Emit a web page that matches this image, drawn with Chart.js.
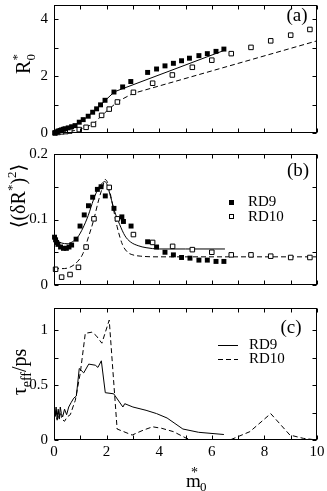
<!DOCTYPE html>
<html lang="en">
<head>
  <meta charset="UTF-8">
  <title>R0*, fluctuation and tau_eff vs m0*</title>
  <script src="https://cdn.jsdelivr.net/npm/chart.js"></script>
  <style>
    html, body { margin: 0; padding: 0; background: #fff; }
    .wrap { position: relative; width: 327px; height: 491px; }
    .wrap canvas { position: absolute; left: 0; top: 0; }
  </style>
</head>
<body>
  <div class="wrap">
    <canvas id="chartA" width="327" height="491"></canvas>
    <canvas id="chartB" width="327" height="491"></canvas>
    <canvas id="chartC" width="327" height="491"></canvas>
  </div>

  <script>
    // (a) R0* : RD9 filled squares, RD10 open squares, fit lines
    const a9x = [0.04, 0.1, 0.16, 0.23, 0.29, 0.36, 0.42, 0.54, 0.67, 0.8, 0.96, 1.11, 1.3, 1.47, 1.62, 1.77, 1.94, 2.28, 2.61, 2.92, 3.56, 3.9, 4.22, 4.54, 4.85, 5.15, 5.51, 5.83, 6.16, 6.46];
    const a9y = [0.01, 0.04, 0.07, 0.09, 0.11, 0.13, 0.15, 0.18, 0.22, 0.26, 0.38, 0.47, 0.59, 0.73, 0.85, 0.99, 1.15, 1.44, 1.62, 1.81, 2.13, 2.25, 2.36, 2.45, 2.54, 2.63, 2.72, 2.79, 2.87, 2.95];
    const a10x = [0.04, 0.15, 0.3, 0.45, 0.6, 0.96, 1.22, 1.5, 1.81, 2.1, 2.41, 3.02, 3.75, 4.5, 5.26, 6.0, 6.74, 7.49, 8.24, 9.0, 9.73];
    const a10y = [0.0, 0.02, 0.04, 0.05, 0.07, 0.12, 0.2, 0.3, 0.62, 0.84, 1.09, 1.43, 1.75, 2.04, 2.31, 2.56, 2.79, 3.01, 3.24, 3.44, 3.64];
    const a9fitX = [0, 0.4, 0.8, 1.2, 1.6, 2.0, 2.3, 6.46];
    const a9fitY = [0, 0.14, 0.28, 0.52, 0.84, 1.19, 1.45, 2.9];
    const a10fitX = [0, 0.5, 0.9, 1.2, 1.5, 1.8, 2.1, 2.45, 3.0, 10];
    const a10fitY = [0, 0.05, 0.1, 0.2, 0.32, 0.6, 0.85, 1.12, 1.39, 3.24];

    // (b) <(dR*)^2>
    const b9x = [0.02, 0.06, 0.1, 0.15, 0.25, 0.36, 0.47, 0.57, 0.67, 0.84, 0.99, 1.15, 1.31, 1.47, 1.65, 1.79, 1.95, 2.28, 2.58, 2.64, 2.93, 3.56, 3.9, 4.22, 4.54, 4.85, 5.17, 5.51, 5.83, 6.16, 6.46];
    const b9y = [0.073, 0.069, 0.065, 0.062, 0.058, 0.056, 0.056, 0.058, 0.061, 0.070, 0.090, 0.107, 0.121, 0.134, 0.146, 0.150, 0.136, 0.117, 0.104, 0.097, 0.090, 0.066, 0.058, 0.050, 0.046, 0.042, 0.041, 0.038, 0.038, 0.036, 0.036];
    const b10x = [0.06, 0.29, 0.61, 0.93, 1.22, 1.52, 2.1, 2.41, 3.02, 3.75, 4.51, 5.26, 6.0, 6.74, 7.49, 8.24, 9.0, 9.73];
    const b10y = [0.024, 0.012, 0.016, 0.027, 0.058, 0.101, 0.149, 0.101, 0.077, 0.065, 0.059, 0.054, 0.050, 0.046, 0.046, 0.044, 0.042, 0.042];
    const b9fitX = [0, 0.15, 0.3, 0.5, 0.7, 0.9, 1.1, 1.3, 1.5, 1.7, 1.85, 1.93, 2.0, 2.15, 2.3, 2.5, 2.7, 2.9, 3.2, 3.5, 4.0, 5.0, 6.5];
    const b9fitY = [0.073, 0.067, 0.064, 0.063, 0.066, 0.073, 0.087, 0.106, 0.13, 0.149, 0.156, 0.158, 0.155, 0.135, 0.113, 0.092, 0.075, 0.066, 0.06, 0.057, 0.055, 0.055, 0.055];
    const b10fitX = [0, 0.3, 0.6, 0.9, 1.1, 1.3, 1.5, 1.7, 1.85, 1.95, 2.05, 2.2, 2.4, 2.6, 2.8, 3.0, 3.3, 4.0, 10];
    const b10fitY = [0.025, 0.025, 0.027, 0.036, 0.048, 0.072, 0.098, 0.13, 0.15, 0.161, 0.155, 0.128, 0.089, 0.062, 0.05, 0.046, 0.044, 0.043, 0.043];

    // (c) tau_eff / ps
    const c9x = [0, 0.04, 0.08, 0.12, 0.16, 0.2, 0.24, 0.28, 0.33, 0.4, 0.48, 0.56, 0.65, 0.75, 0.85, 0.96, 1.13, 1.32, 1.57, 1.67, 1.8, 1.95, 2.27, 2.62, 2.69, 3.0, 3.5, 3.9, 4.3, 4.6, 4.9, 5.5, 6.46];
    const c9y = [0.27, 0.22, 0.3, 0.19, 0.28, 0.2, 0.3, 0.24, 0.21, 0.28, 0.23, 0.3, 0.34, 0.38, 0.4, 0.65, 0.61, 0.69, 0.68, 0.66, 0.72, 0.43, 0.42, 0.30, 0.33, 0.3, 0.27, 0.24, 0.2, 0.15, 0.1, 0.07, 0.05];
    const c10x = [0, 0.04, 0.08, 0.12, 0.16, 0.2, 0.25, 0.3, 0.4, 0.5, 0.62, 0.72, 0.81, 1.0, 1.19, 1.44, 1.6, 1.82, 2.1, 2.4, 2.97, 3.4, 3.75, 4.1, 4.54, 5.04, 5.3, 6.69, 7.45, 8.24, 8.97, 9.48, 10];
    const c10y = [0.26, 0.2, 0.28, 0.18, 0.26, 0.19, 0.24, 0.19, 0.17, 0.21, 0.23, 0.3, 0.36, 0.61, 0.97, 0.98, 0.95, 0.88, 1.09, 0.1, 0.045, 0.09, 0.12, 0.106, 0.076, 0.015, 0, 0, 0.076, 0.24, 0.045, 0.015, 0];

    const seriesNames = ['RD9', 'RD10'];
    const xTickLabels = [0, 2, 4, 6, 8, 10];

    const SERIF = '"Liberation Serif", "DejaVu Serif", serif';
    Chart.defaults.font.family = SERIF;
    Chart.defaults.color = '#000';

    function pts(xs, ys) {
      return xs.map((x, i) => ({ x: x, y: ys[i] }));
    }

    function filled(xs, ys) {
      return { data: pts(xs, ys), pointStyle: 'rect', pointRadius: 3.5, backgroundColor: '#000', borderColor: '#000', borderWidth: 0, clip: false };
    }
    function open(xs, ys) {
      return { data: pts(xs, ys), pointStyle: 'rect', pointRadius: 3.2, backgroundColor: '#fff', borderColor: '#000', borderWidth: 1, clip: false };
    }
    function curve(xs, ys, dashed, smooth) {
      return {
        data: pts(xs, ys), showLine: true, pointRadius: 0, borderColor: '#000', borderWidth: 1,
        borderDash: dashed ? [5, 3] : [], tension: smooth ? 0.4 : 0,
        cubicInterpolationMode: smooth ? 'monotone' : 'default'
      };
    }

    // frame box + inward ticks on all four sides
    const frame = {
      id: 'frame',
      afterDatasetsDraw(chart) {
        const { ctx, chartArea: a, scales: { x, y } } = chart;
        const L = Math.round(a.left) + 0.5, R = Math.round(a.right) - 0.5;
        const T = Math.round(a.top) + 0.5, B = Math.round(a.bottom) - 0.5;
        ctx.save();
        ctx.strokeStyle = '#000';
        ctx.lineWidth = 1;
        ctx.strokeRect(L, T, R - L, B - T);
        ctx.beginPath();
        x.ticks.forEach(t => {
          const px = Math.round(x.getPixelForValue(t.value)) + 0.5;
          ctx.moveTo(px, T); ctx.lineTo(px, T + 4);
          ctx.moveTo(px, B); ctx.lineTo(px, B - 4);
        });
        y.ticks.forEach(t => {
          const py = Math.round(y.getPixelForValue(t.value)) + 0.5;
          ctx.moveTo(L, py); ctx.lineTo(L + 4, py);
          ctx.moveTo(R, py); ctx.lineTo(R - 4, py);
        });
        ctx.stroke();
        ctx.restore();
      }
    };

    // text with super/subscripts; part = [text, size, dy, advance]
    function richText(ctx, x, y, rotate, parts) {
      ctx.save();
      ctx.translate(x, y);
      if (rotate) ctx.rotate(-Math.PI / 2);
      ctx.textAlign = 'left';
      ctx.textBaseline = 'alphabetic';
      ctx.fillStyle = '#000';
      let w = 0;
      parts.forEach(p => {
        ctx.font = p[1] + 'px ' + SERIF;
        if (p[3] !== false) w += ctx.measureText(p[0]).width;
      });
      let cx = -w / 2;
      parts.forEach(p => {
        ctx.font = p[1] + 'px ' + SERIF;
        ctx.fillText(p[0], cx, p[2] || 0);
        if (p[3] !== false) cx += ctx.measureText(p[0]).width;
      });
      ctx.restore();
    }

    function label(ctx, text, x, y, size) {
      ctx.save();
      ctx.font = size + 'px ' + SERIF;
      ctx.fillStyle = '#000';
      ctx.textAlign = 'center';
      ctx.textBaseline = 'middle';
      ctx.fillText(text, x, y);
      ctx.restore();
    }

    function panel(id, top, bottom, ymax, ystep, yshow, showX, datasets, deco) {
      return new Chart(document.getElementById(id), {
        type: 'scatter',
        data: { datasets: datasets },
        options: {
          responsive: false,
          animation: false,
          devicePixelRatio: 1,
          layout: { padding: { top: top, right: 10, bottom: 0, left: 0 } },
          plugins: { legend: { display: false }, tooltip: { enabled: false } },
          scales: {
            x: {
              type: 'linear', min: 0, max: 10,
              grid: { display: false, drawTicks: false },
              border: { display: false },
              ticks: {
                stepSize: 1, autoSkip: false, maxRotation: 0, padding: 3, font: { size: 15 },
                callback: v => (showX && xTickLabels.includes(v)) ? String(v) : ''
              },
              afterFit: s => { s.height = 491 - bottom; s.paddingLeft = 0; s.paddingRight = 0; }
            },
            y: {
              type: 'linear', min: 0, max: ymax,
              grid: { display: false, drawTicks: false },
              border: { display: false },
              ticks: {
                stepSize: ystep, includeBounds: false, autoSkip: false, padding: 6, font: { size: 15 },
                callback: v => yshow(v) ? String(v) : ''
              },
              afterFit: s => { s.width = 54; s.paddingTop = 0; s.paddingBottom = 0; }
            }
          }
        },
        plugins: [frame, { id: 'deco', afterDraw: chart => deco(chart.ctx) }]
      });
    }

    const isWhole = (v, k) => Math.abs(v * k - Math.round(v * k)) < 1e-6;

    panel('chartA', 1, 133, 4.5, 1, v => isWhole(v, 0.5), false, [
      filled(a9x, a9y),
      open(a10x, a10y),
      curve(a9fitX, a9fitY, false, false),
      curve(a10fitX, a10fitY, true, false)
    ], ctx => {
      label(ctx, '(a)', 297, 16, 19);
      richText(ctx, 30, 64, true, [['R', 20, 0], ['*', 13, -9, false], ['0', 13, 5]]);
    });

    panel('chartB', 154, 285, 0.2, 0.05, v => isWhole(v, 10), false, [
      filled(b9x, b9y),
      open(b10x, b10y),
      curve(b9fitX, b9fitY, false, true),
      curve(b10fitX, b10fitY, true, true)
    ], ctx => {
      label(ctx, '(b)', 298, 171, 19);
      ctx.save();
      ctx.fillStyle = '#000';
      ctx.fillRect(229, 200, 5, 5);
      ctx.strokeStyle = '#000';
      ctx.lineWidth = 1;
      ctx.strokeRect(229.5, 214.5, 4, 4);
      ctx.font = '15px ' + SERIF;
      ctx.textBaseline = 'middle';
      ctx.fillText(seriesNames[0], 248, 202);
      ctx.fillText(seriesNames[1], 248, 217);
      ctx.restore();
      richText(ctx, 25, 196, true, [['\u27E8', 20, 0], ['(\u03B4R', 20, 0], ['*', 13, -9], [')', 20, 0], ['2', 13, -9], ['\u27E9', 20, 0]]);
    });

    panel('chartC', 308, 440, 1.2, 0.25, v => isWhole(v, 2), true, [
      curve(c9x, c9y, false, false),
      curve(c10x, c10y, true, false)
    ], ctx => {
      label(ctx, '(c)', 291, 328, 19);
      ctx.save();
      ctx.strokeStyle = '#000';
      ctx.lineWidth = 1;
      ctx.beginPath(); ctx.moveTo(218, 345.5); ctx.lineTo(238, 345.5); ctx.stroke();
      ctx.setLineDash([5, 3]);
      ctx.beginPath(); ctx.moveTo(218, 359.5); ctx.lineTo(238, 359.5); ctx.stroke();
      ctx.setLineDash([]);
      ctx.fillStyle = '#000';
      ctx.font = '15px ' + SERIF;
      ctx.textBaseline = 'middle';
      ctx.fillText(seriesNames[0], 249, 345);
      ctx.fillText(seriesNames[1], 249, 359);
      ctx.restore();
      richText(ctx, 26, 372, true, [['\u03C4', 20, 0], ['eff', 14, 5], ['/ps', 20, 0]]);
      // x axis title m0*
      ctx.save();
      ctx.fillStyle = '#000';
      ctx.textBaseline = 'alphabetic';
      ctx.font = '19px ' + SERIF;
      ctx.fillText('m', 186, 487);
      ctx.font = '14px ' + SERIF;
      ctx.fillText('*', 191, 477);
      ctx.font = '13px ' + SERIF;
      ctx.fillText('0', 200, 491);
      ctx.restore();
    });
  </script>
</body>
</html>
